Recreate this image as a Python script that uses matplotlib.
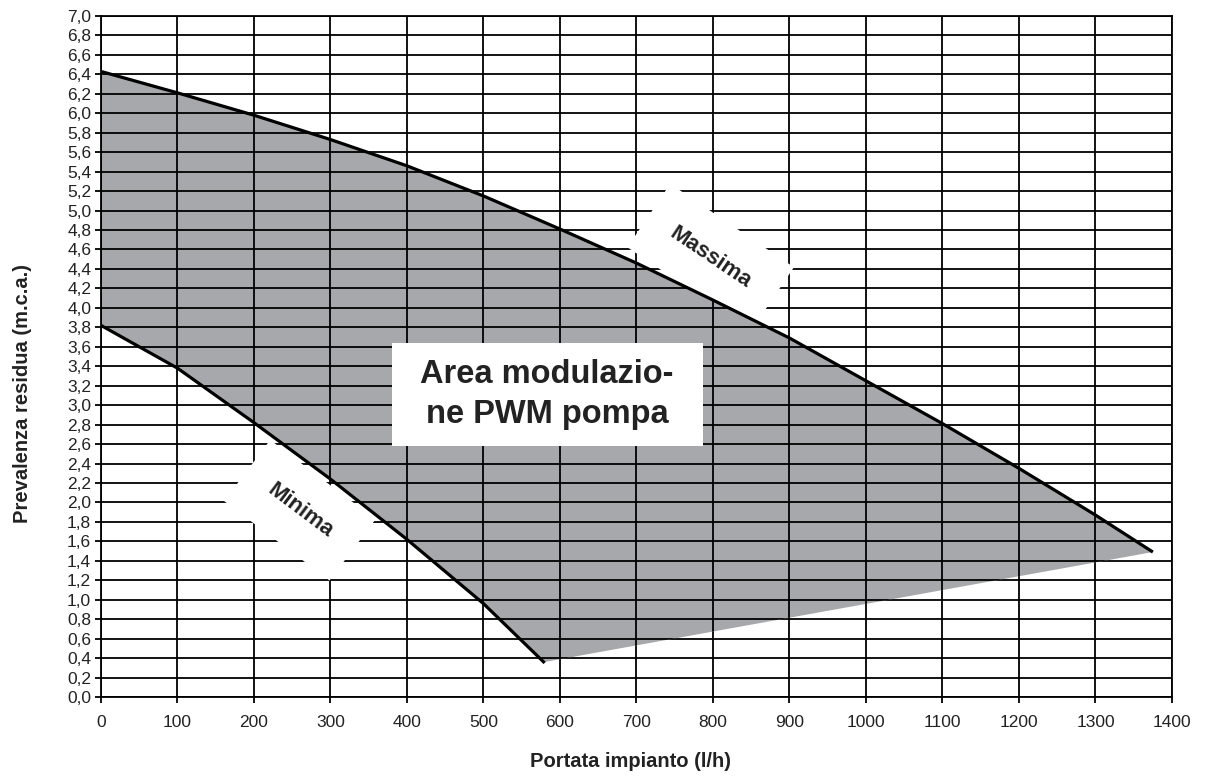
import numpy as np
import matplotlib
matplotlib.use("Agg")
import matplotlib.pyplot as plt
from matplotlib.patches import Polygon, Rectangle

plt.rcParams["font.family"] = ["Liberation Sans", "DejaVu Sans"]

# curve "Massima" (l/h, m.c.a.)
max_x = [0, 100, 200, 300, 400, 500, 600, 700, 800, 900, 1000, 1100, 1200, 1300, 1375]
max_y = [6.43, 6.21, 5.98, 5.73, 5.46, 5.15, 4.81, 4.46, 4.08, 3.69, 3.25, 2.81, 2.35, 1.87, 1.49]
# curve "Minima"
min_x = [0, 100, 200, 300, 400, 500, 580]
min_y = [3.82, 3.38, 2.82, 2.24, 1.62, 0.96, 0.35]
# lower edge of the modulation area
low_x = [580, 1375]
low_y = [0.36, 1.49]

x_ticks = np.arange(0, 1401, 100)
y_ticks = np.round(np.arange(0, 7.01, 0.2), 1)

GRAY = "#a7a8ab"
TXT = "#222222"

fig = plt.figure(figsize=(12.06, 7.76), dpi=100)
ax = fig.add_axes([0.0837, 0.1018, 0.8881, 0.8776])

ax.set_xlim(0, 1400)
ax.set_ylim(0, 7)
ax.set_xticks(x_ticks)
ax.set_yticks(y_ticks)
ax.set_yticklabels([f"{v:.1f}".replace(".", ",") for v in y_ticks])
ax.set_axisbelow(True)
ax.grid(True, color="black", lw=1.3)
ax.tick_params(direction="out", length=4, width=1.3, labelsize=12.5,
               labelcolor=TXT)
ax.tick_params(axis="x", pad=9)
ax.tick_params(axis="y", pad=3)
for s in ax.spines.values():
    s.set_linewidth(1.3)

ax.set_xlabel("Portata impianto (l/h)", fontsize=14.5, fontweight="bold",
              color=TXT, labelpad=16)
ax.set_ylabel("Prevalenza residua (m.c.a.)", fontsize=14.5, fontweight="bold",
              color=TXT, labelpad=25)
ax.xaxis.label.set_x(0.494)
ax.yaxis.label.set_y(0.446)

# curve labels on white patches (drawn under the shaded area)
white_box = dict(boxstyle="square,pad=1.25", fc="white", ec="none")
ax.text(797, 4.52, "Massima", rotation=-34, ha="center", va="center",
        fontsize=16, fontweight="bold", color=TXT, zorder=2,
        bbox=white_box)
ax.text(260, 1.92, "Minima", rotation=-37, ha="center", va="center",
        fontsize=16, fontweight="bold", color=TXT, zorder=2,
        bbox=white_box)

# shaded area: max curve, then lower edge back, then min curve back
poly_x = list(max_x) + low_x[::-1] + min_x[::-1]
poly_y = list(max_y) + low_y[::-1] + min_y[::-1]
area = Polygon(np.column_stack([poly_x, poly_y]), closed=True,
               fc=GRAY, ec="none", zorder=2.2)
ax.add_patch(area)
# grid lines visible inside the shaded area
for xv in x_ticks:
    ln = ax.axvline(xv, color="black", lw=1.3, zorder=2.4)
    ln.set_clip_path(area)
for yv in y_ticks:
    ln = ax.axhline(yv, color="black", lw=1.3, zorder=2.4)
    ln.set_clip_path(area)

ax.plot(max_x, max_y, color="black", lw=2.3, zorder=3, solid_capstyle="butt")
ax.plot(min_x, min_y, color="black", lw=2.3, zorder=3, solid_capstyle="butt")

# central label
ax.add_patch(Rectangle((380, 2.58), 407, 1.06, fc="white", ec="none", zorder=4))
ax.text(583, 3.11, "Area modulazio-\nne PWM pompa", ha="center", va="center",
        fontsize=23.5, fontweight="bold", color=TXT, zorder=5,
        linespacing=1.35)

fig.savefig("out.png", dpi=100)
